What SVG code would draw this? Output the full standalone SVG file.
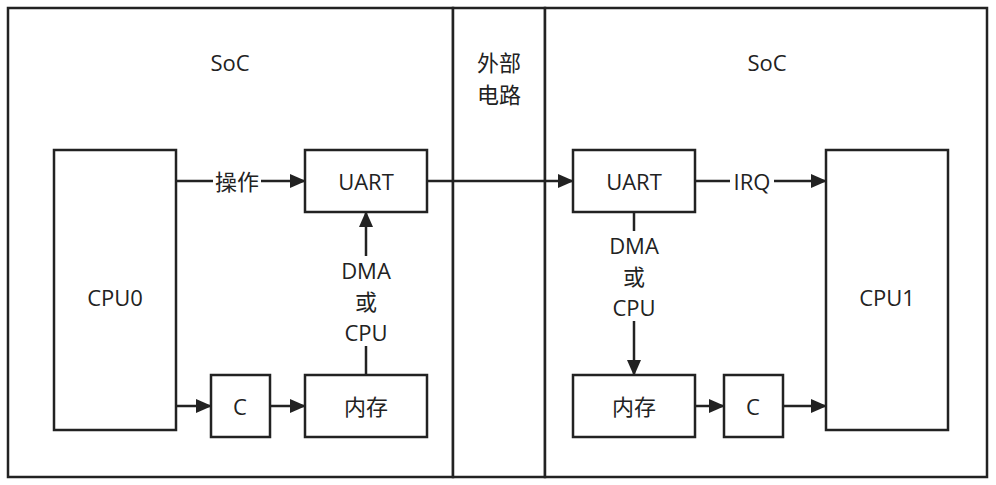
<svg xmlns="http://www.w3.org/2000/svg" width="996" height="485" viewBox="0 0 996 485">
<style>
.b{fill:#fff;stroke:#222;stroke-width:2.5}
.t{font-family:"Open Sans","Noto Sans CJK SC",sans-serif;font-size:22px;fill:#222;text-anchor:middle;dominant-baseline:central}
.c{stroke:#222;stroke-width:2.5;fill:none}
.l{fill:#fff}
</style>
<defs><marker id="h" markerWidth="16" markerHeight="14" refX="15" refY="7" orient="auto" markerUnits="userSpaceOnUse"><path d="M0,0 L16,7 L0,14 Z" fill="#222"/></marker></defs>
<rect width="996" height="485" fill="#fff"/>
<g id="soc0"><rect class="b" x="8" y="8" width="445" height="469"/><text class="t" x="230" y="62">SoC</text></g>
<g id="ext"><rect class="b" x="453" y="8" width="92" height="469"/><text class="t" x="499" y="62">外部</text><text class="t" x="499" y="94">电路</text></g>
<g id="soc1"><rect class="b" x="545" y="8" width="442" height="469"/><text class="t" x="767" y="62">SoC</text></g>
<g id="cpu0"><rect class="b" x="54" y="150" width="122" height="280"/><text class="t" x="115" y="297">CPU0</text></g>
<g id="uart0"><rect class="b" x="305" y="150" width="122" height="62"/><text class="t" x="366" y="181">UART</text></g>
<g id="c0"><rect class="b" x="211" y="375" width="59" height="62"/><text class="t" x="240" y="406">C</text></g>
<g id="mem0"><rect class="b" x="305" y="375" width="122" height="62"/><text class="t" x="366" y="406">内存</text></g>
<g id="uart1"><rect class="b" x="573" y="150" width="122" height="62"/><text class="t" x="634" y="181">UART</text></g>
<g id="cpu1"><rect class="b" x="826" y="150" width="122" height="280"/><text class="t" x="887" y="297">CPU1</text></g>
<g id="mem1"><rect class="b" x="573" y="375" width="122" height="62"/><text class="t" x="634" y="406">内存</text></g>
<g id="c1"><rect class="b" x="724" y="375" width="59" height="62"/><text class="t" x="753" y="406">C</text></g>
<g id="connectors">
<path class="c" d="M176,181 H305" marker-end="url(#h)"/>
<rect class="l" x="213" y="168" width="48" height="26"/><text class="t" x="237" y="181">操作</text>
<path class="c" d="M427,181 H573" marker-end="url(#h)"/>
<path class="c" d="M695,181 H826" marker-end="url(#h)"/>
<rect class="l" x="730" y="168" width="44" height="26"/><text class="t" x="752" y="181">IRQ</text>
<path class="c" d="M366,375 V212" marker-end="url(#h)"/>
<rect class="l" x="336" y="256" width="60" height="90"/>
<text class="t" x="366" y="270">DMA</text><text class="t" x="366" y="301">或</text><text class="t" x="366" y="332">CPU</text>
<path class="c" d="M634,212 V375" marker-end="url(#h)"/>
<rect class="l" x="604" y="231" width="60" height="90"/>
<text class="t" x="634" y="245">DMA</text><text class="t" x="634" y="276">或</text><text class="t" x="634" y="307">CPU</text>
<path class="c" d="M176,406 H211" marker-end="url(#h)"/>
<path class="c" d="M270,406 H305" marker-end="url(#h)"/>
<path class="c" d="M695,406 H724" marker-end="url(#h)"/>
<path class="c" d="M783,406 H826" marker-end="url(#h)"/>
</g>
</svg>
